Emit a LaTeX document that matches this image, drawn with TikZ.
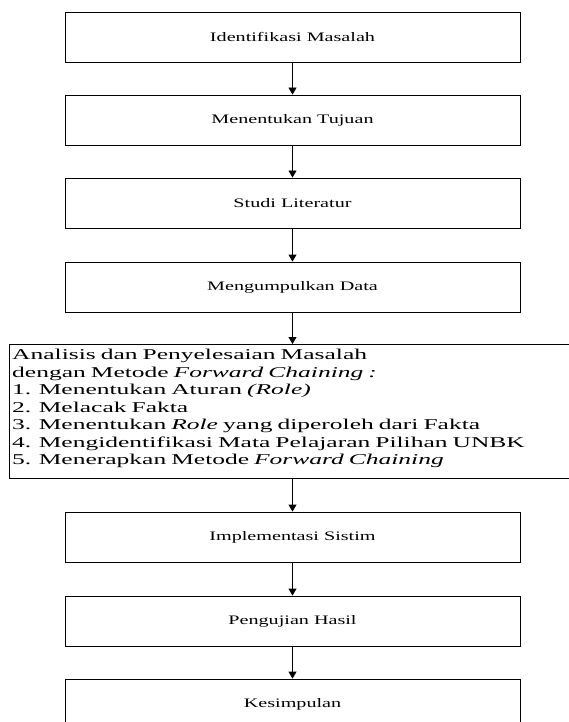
\documentclass[tikz,border=0pt]{standalone}
\usepackage{fontspec}
\setmainfont{Liberation Serif}
\newfontfamily\smallboxfont[FakeStretch=1.55]{Liberation Serif}
\newfontfamily\bigboxfont[FakeStretch=1.7]{Liberation Serif}
\usetikzlibrary{arrows.meta}
\begin{document}
\begin{tikzpicture}[x=1pt,y=-1pt,
  stepbox/.style={draw=black, line width=0.9pt, minimum width=455pt, minimum height=50pt, inner sep=0pt, font=\smallboxfont\fontsize{13}{15}\selectfont},
  bigframe/.style={draw=black, line width=0.9pt, minimum width=581pt, minimum height=134pt, inner sep=0pt, anchor=north west},
  bigtext/.style={text width=570pt, inner sep=0pt, align=left, anchor=north west, font=\bigboxfont\fontsize{15}{17.5}\selectfont},
  conn/.style={line width=0.9pt, -{Triangle[width=8pt,length=7pt]}}]
\useasboundingbox (0,0) rectangle (569,722);
\clip (0,0) rectangle (569,722);
\node[stepbox] (b1) at (292.5,37) {Identifikasi Masalah};
\node[stepbox] (b2) at (292.5,120) {Menentukan Tujuan};
\node[stepbox] (b3) at (292.5,203) {Studi Literatur};
\node[stepbox] (b4) at (292.5,287) {Mengumpulkan Data};
\node[bigframe] (an) at (9,344) {};
\node[bigtext] (antext) at (12,349) {Analisis dan Penyelesaian Masalah\\
dengan Metode \textit{Forward Chaining :}\\
1. Menentukan Aturan \textit{(Role)}\\
2. Melacak Fakta\\
3. Menentukan \textit{Role} yang diperoleh dari Fakta\\
4. Mengidentifikasi Mata Pelajaran Pilihan UNBK\\
5. Menerapkan Metode \textit{Forward Chaining}};
\node[stepbox] (b5) at (292.5,537) {Implementasi Sistim};
\node[stepbox] (b6) at (292.5,621) {Pengujian Hasil};
\node[stepbox] (b7) at (292.5,704) {Kesimpulan};
\draw[conn] (b1) -- (b2);
\draw[conn] (b2) -- (b3);
\draw[conn] (b3) -- (b4);
\draw[conn] (b4.south) -- (b4.south |- an.north);
\draw[conn] (b5.north |- an.south) -- (b5.north);
\draw[conn] (b5) -- (b6);
\draw[conn] (b6) -- (b7);
\end{tikzpicture}
\end{document}
